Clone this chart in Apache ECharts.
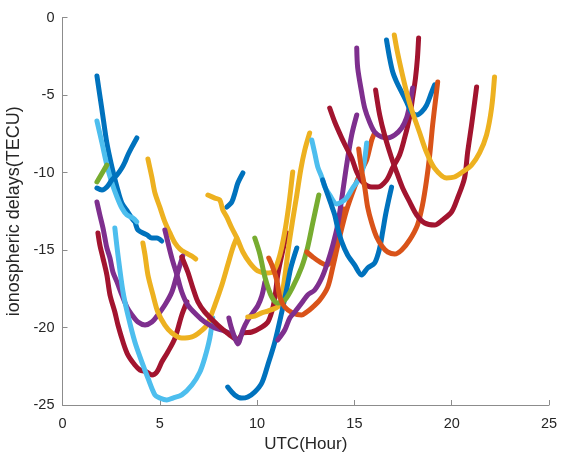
<!DOCTYPE html>
<html>
<head>
<meta charset="utf-8">
<script src="https://cdn.jsdelivr.net/npm/echarts@6/dist/echarts.min.js"></script>
<style>
  html, body { margin: 0; padding: 0; background: #fff; }
  #chart { width: 562px; height: 454px; }
</style>
</head>
<body>
<div id="chart"></div>
<script>
// each track: [UTC hour, delay TECU]
var blue1 = [[1.77,-3.77],[2.03,-5.97],[2.28,-8.10],[2.54,-9.65],[2.80,-10.94],[3.05,-11.97],[3.36,-12.55],[3.62,-13.06],[3.72,-13.19],[3.88,-13.71],[4.34,-14.03],[4.59,-14.23],[4.85,-14.23],[5.10,-14.42]];
var lightblue1 = [[1.77,-6.68],[2.03,-8.10],[2.28,-9.52],[2.54,-10.68],[2.80,-11.58],[3.05,-12.29],[3.31,-12.74],[3.62,-12.94],[3.82,-13.19]];
var green1 = [[1.77,-10.61],[1.98,-10.16],[2.13,-9.84],[2.28,-9.52]];
var blue2 = [[1.77,-11.0],[2.03,-11.13],[2.28,-10.94],[2.54,-10.48],[2.80,-10.16],[3.05,-9.71],[3.21,-9.32],[3.36,-8.87],[3.57,-8.35],[3.82,-7.77]];
var yellow1 = [[4.39,-9.13],[4.59,-10.29],[4.75,-11.32],[5.0,-12.23],[5.26,-13.19],[5.52,-13.9],[5.78,-14.55],[6.04,-14.94],[6.34,-15.19],[6.65,-15.39],[6.85,-15.58]];
var purple1 = [[1.77,-11.9],[1.92,-12.74],[2.08,-13.58],[2.18,-14.23],[2.28,-14.87],[2.44,-15.52],[2.59,-16.42],[2.80,-17.06],[3.05,-17.9],[3.31,-18.68],[3.57,-19.19],[3.88,-19.65],[4.24,-19.84],[4.59,-19.65],[4.90,-19.19],[5.26,-18.55],[5.62,-17.71],[5.88,-16.61],[6.18,-15.39]];
var darkred1 = [[1.82,-13.9],[1.92,-14.68],[2.08,-15.52],[2.28,-16.61],[2.44,-17.9],[2.69,-19.0],[2.85,-19.84],[3.11,-20.94],[3.36,-21.77],[3.72,-22.42],[3.98,-22.74],[4.34,-22.87],[4.59,-23.06],[4.85,-22.87],[5.10,-22.23],[5.41,-21.58],[5.78,-20.68],[6.13,-19.19],[6.39,-18.35]];
var lightblue2 = [[2.69,-13.58],[2.85,-15.32],[3.11,-17.71],[3.36,-19.19],[3.72,-20.94],[4.08,-22.23],[4.39,-23.26],[4.75,-24.35],[5.0,-24.55],[5.36,-24.68],[5.67,-24.55],[6.13,-24.35],[6.65,-23.71],[7.06,-22.87],[7.31,-21.97],[7.57,-20.68],[7.72,-19.39]];
var yellow2 = [[4.13,-14.55],[4.24,-15.32],[4.39,-16.61],[4.65,-17.9],[4.9,-19.0],[5.26,-19.84],[5.62,-20.35],[6.13,-20.68],[6.65,-20.61],[7.06,-20.29],[7.42,-19.84],[7.83,-18.55],[8.19,-17.26],[8.49,-15.97],[8.75,-14.87],[8.95,-14.23]];
var purple2 = [[5.26,-13.71],[5.41,-14.48],[5.62,-15.52],[5.88,-16.61],[6.13,-17.71],[6.44,-18.55],[6.9,-19.19],[7.31,-19.65],[7.83,-20.03],[8.34,-20.23],[8.7,-20.48],[8.9,-20.68]];
var darkred3 = [[6.13,-15.45],[6.44,-16.42],[6.7,-17.45],[6.96,-18.35],[7.31,-19.0],[7.98,-19.84],[8.59,-20.48],[9.01,-20.81],[9.27,-20.35],[9.73,-20.29],[10.24,-19.97],[10.55,-19.65],[10.75,-19.0],[10.91,-18.1],[11.06,-16.61],[11.27,-15.32],[11.53,-13.9]];
var purple3 = [[8.55,-19.39],[8.65,-19.9],[8.8,-20.48],[9.01,-21.06],[9.27,-20.16],[9.52,-19.52],[9.78,-19.06],[10.03,-18.61],[10.24,-17.97],[10.4,-17.06]];
var blue3 = [[8.44,-12.23],[8.70,-11.9],[8.86,-11.32],[9.01,-10.68],[9.27,-10.03]];
var yellow3 = [[7.47,-11.45],[7.83,-11.65],[8.08,-11.77],[8.24,-12.42],[8.44,-12.87],[8.70,-13.58],[9.01,-14.35],[9.27,-15.13],[9.63,-15.84],[10.03,-16.35],[10.5,-16.48],[10.86,-16.35],[11.17,-15.32],[11.42,-13.84],[11.63,-12.1],[11.83,-9.97]];
var yellow4 = [[9.52,-19.32],[9.88,-19.26],[10.24,-19.06],[10.55,-18.94],[10.96,-18.74],[11.17,-18.55],[11.32,-17.58],[11.47,-16.29],[11.63,-14.68],[11.83,-13.06],[12.04,-11.45],[12.24,-9.84],[12.45,-8.55],[12.7,-7.45]];
var blue4 = [[8.49,-23.84],[8.85,-24.35],[9.21,-24.55],[9.52,-24.48],[9.88,-24.16],[10.24,-23.58],[10.55,-22.42],[10.91,-20.94],[11.27,-19.0],[11.53,-17.45],[11.73,-16.16],[12.04,-14.87]];
var green2 = [[9.88,-14.23],[10.14,-15.26],[10.4,-16.74],[10.75,-18.03],[11.06,-18.42],[11.42,-18.23],[11.83,-17.39],[12.29,-16.1],[12.6,-14.81],[12.86,-13.26],[13.17,-11.45]];
var orange1 = [[10.6,-15.52],[10.8,-16.1],[11.01,-16.94],[11.17,-18.03],[11.42,-18.68],[11.83,-19.06],[12.29,-19.19],[12.55,-19.0],[12.86,-18.68],[13.22,-18.23],[13.63,-17.39],[13.89,-16.1],[14.09,-15.0],[14.24,-14.16],[14.6,-12.42],[15.01,-10.94],[15.37,-9.84],[15.63,-9.19],[15.89,-7.9],[16.04,-7.45]];
var orange2 = [[12.55,-15.13],[12.86,-15.45],[13.22,-15.77],[13.58,-15.97],[13.83,-15.65],[14.09,-14.81],[14.24,-13.71],[14.45,-12.35]];
var purple4 = [[11.06,-20.81],[11.42,-20.16],[11.68,-19.39],[11.94,-19.0],[12.29,-18.42],[12.6,-17.9],[12.96,-17.58],[13.32,-16.81],[13.63,-15.77],[13.89,-14.68],[14.14,-13.39],[14.4,-11.26],[14.6,-9.52],[14.86,-7.58],[15.12,-6.29]];
var lightblue3 = [[12.81,-7.9],[12.96,-8.74],[13.12,-9.65],[13.32,-10.29],[13.48,-10.94],[13.73,-11.45],[14.09,-12.03],[14.35,-11.9],[14.6,-11.65],[14.91,-11.0],[15.27,-10.35],[15.48,-9.52],[15.63,-8.1]];
var blue6 = [[13.37,-10.48],[13.58,-11.26],[13.78,-11.97],[13.99,-12.74],[14.14,-13.58],[14.35,-14.48],[14.65,-15.32],[15.01,-15.97],[15.37,-16.61],[15.68,-16.16],[16.04,-15.84],[16.3,-14.87],[16.45,-13.84],[16.6,-12.74],[16.76,-11.77],[16.91,-10.94]];
var darkred4 = [[13.73,-5.84],[13.99,-6.74],[14.35,-7.77],[14.6,-8.42],[14.86,-9.06],[15.12,-9.97],[15.42,-10.61],[15.89,-10.94],[16.2,-10.94],[16.66,-10.48],[16.96,-9.71],[17.32,-8.87],[17.58,-7.77],[17.83,-6.48],[17.99,-5.19],[18.14,-3.9],[18.24,-2.61],[18.3,-1.32]];
var purple5 = [[15.12,-1.97],[15.17,-3.26],[15.37,-4.81],[15.53,-5.84],[15.78,-6.74],[16.04,-7.39],[16.4,-7.71],[16.71,-7.77],[17.07,-7.58],[17.43,-7.13],[17.68,-6.48],[17.84,-5.65],[17.99,-4.55]];
var blue5 = [[16.65,-1.45],[16.81,-2.61],[16.97,-3.52],[17.17,-4.16],[17.43,-4.81],[17.68,-5.45],[17.94,-6.1],[18.2,-6.29],[18.45,-6.1],[18.71,-5.65],[18.97,-4.81],[19.12,-4.35]];
var orange3 = [[15.22,-8.48],[15.37,-9.84],[15.53,-10.94],[15.68,-12.23],[15.89,-13.26],[16.14,-14.16],[16.45,-14.81],[16.71,-15.13],[17.07,-15.26],[17.43,-15.0],[17.84,-14.35],[18.24,-13.39],[18.5,-12.1],[18.71,-10.48],[18.87,-8.87],[19.02,-6.94],[19.17,-5.32],[19.28,-4.16]];
var darkred5 = [[16.09,-4.68],[16.3,-6.29],[16.55,-7.58],[16.91,-9.06],[17.17,-9.97],[17.48,-11.0],[17.84,-11.9],[18.2,-12.74],[18.61,-13.26],[19.12,-13.39],[19.53,-13.06],[19.99,-12.55],[20.3,-11.65],[20.66,-10.35],[20.82,-8.68],[21.02,-6.94],[21.18,-5.45],[21.28,-4.48]];
var yellow5 = [[17.05,-1.13],[17.21,-2.23],[17.47,-3.71],[17.72,-5.0],[17.98,-6.1],[18.34,-7.39],[18.7,-8.68],[19.11,-9.71],[19.73,-10.35],[20.14,-10.29],[20.55,-9.97],[21.02,-9.52],[21.43,-8.74],[21.79,-7.58],[22.05,-5.84],[22.2,-3.84]];

var xTicks = [0, 5, 10, 15, 20, 25];
var yTicks = [-25, -20, -15, -10, -5, 0];

var C = {
    blue: '#0072BD', orange: '#D95319', yellow: '#EDB120', purple: '#7E2F8E',
    green: '#77AC30', lightblue: '#4DBEEE', darkred: '#A2142F'
};

var tracks = [
    [blue1, C.blue], [lightblue1, C.lightblue], [green1, C.green], [blue2, C.blue],
    [yellow1, C.yellow], [purple1, C.purple], [darkred1, C.darkred], [lightblue2, C.lightblue],
    [yellow2, C.yellow], [purple2, C.purple], [darkred3, C.darkred], [purple3, C.purple],
    [blue3, C.blue], [yellow3, C.yellow], [yellow4, C.yellow], [blue4, C.blue],
    [green2, C.green], [orange1, C.orange], [orange2, C.orange], [purple4, C.purple],
    [lightblue3, C.lightblue], [blue6, C.blue], [darkred4, C.darkred], [purple5, C.purple],
    [blue5, C.blue], [orange3, C.orange], [darkred5, C.darkred], [yellow5, C.yellow]
];

var myChart = echarts.init(document.getElementById('chart'), null, { renderer: 'canvas' });

var axisCommon = {
    type: 'value',
    interval: 5,
    nameLocation: 'middle',
    axisLine: { show: true, onZero: false, lineStyle: { color: '#8c8c8c', width: 1 } },
    axisTick: { show: true, inside: true, length: 5, lineStyle: { color: '#8c8c8c' } },
    axisLabel: { color: '#262626', fontSize: 14.5, fontFamily: 'Liberation Sans' },
    splitLine: { show: false }
};

var option = {
    animation: false,
    backgroundColor: '#fff',
    grid: { left: 62.5, right: 13, top: 17.5, bottom: 49, containLabel: false, outerBoundsMode: 'none' },
    xAxis: Object.assign({}, axisCommon, {
        min: xTicks[0], max: xTicks[xTicks.length - 1],
        name: 'UTC(Hour)', nameGap: 29,
        nameTextStyle: { color: '#262626', fontSize: 17, fontFamily: 'Liberation Sans' },
        axisLabel: Object.assign({}, axisCommon.axisLabel, { margin: 11 })
    }),
    yAxis: Object.assign({}, axisCommon, {
        min: yTicks[0], max: yTicks[yTicks.length - 1],
        name: 'ionospheric delays(TECU)', nameGap: 25,
        nameTextStyle: { color: '#262626', fontSize: 18, fontFamily: 'Liberation Sans' },
        axisLabel: Object.assign({}, axisCommon.axisLabel, { margin: 8 })
    }),
    series: tracks.map(function (t) {
        return {
            type: 'line',
            data: t[0],
            showSymbol: false,
            smooth: 0.3,
            clip: true,
            lineStyle: { color: t[1], width: 5, cap: 'round', join: 'round' },
            itemStyle: { color: t[1] }
        };
    })
};

myChart.setOption(option);
</script>
</body>
</html>
